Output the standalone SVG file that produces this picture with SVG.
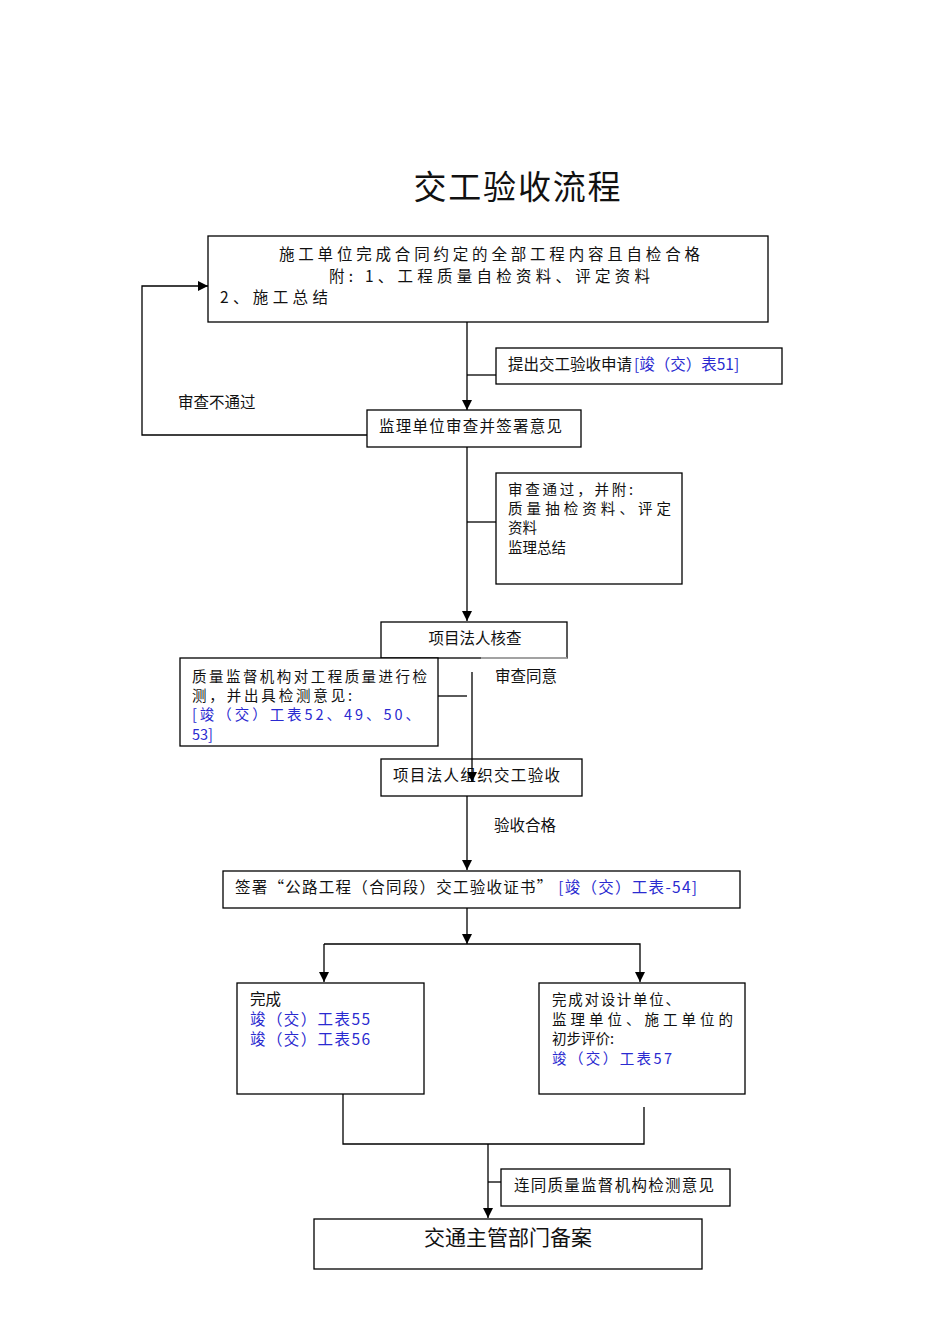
<svg xmlns="http://www.w3.org/2000/svg" width="950" height="1344" viewBox="0 0 950 1344">
<style>
.box{fill:#fff;stroke:#000;stroke-width:1.3}
.ln{fill:none;stroke:#000;stroke-width:1.3}
.t{font-family:"Noto Sans CJK SC","Liberation Sans",sans-serif;font-size:15.5px;fill:#111}
.s{font-size:14.5px}
.b{fill:#2a2ad0}
</style>
<defs>
<marker id="ah" viewBox="0 0 10 10" refX="10" refY="5" markerWidth="10" markerHeight="10" markerUnits="userSpaceOnUse" orient="auto"><path d="M0,0 L10,5 L0,10 Z" fill="#000"/></marker>
</defs>
<rect width="950" height="1344" fill="#fff"/>
<text x="517" y="199" text-anchor="middle" font-family="Noto Sans CJK SC, sans-serif" font-size="33" fill="#111" textLength="207" lengthAdjust="spacing">交工验收流程</text>

<g id="n1">
<rect class="box" x="208" y="236" width="560" height="86"/>
<text class="t" x="279" y="260" textLength="421" lengthAdjust="spacing">施工单位完成合同约定的全部工程内容且自检合格</text>
<text class="t" x="329" y="282" textLength="321" lengthAdjust="spacing">附: 1、工程质量自检资料、评定资料</text>
<text class="t" x="220" y="303" textLength="108" lengthAdjust="spacing">2、施工总结</text>
</g>

<g id="n2">
<rect class="box" x="496" y="348" width="286" height="36"/>
<text class="t" x="508" y="370">提出交工验收申请<tspan class="b" dx="2">[竣（交）表51]</tspan></text>
</g>

<g id="n3">
<rect class="box" x="367" y="410" width="214" height="37"/>
<text class="t" x="379" y="432" textLength="183" lengthAdjust="spacing">监理单位审查并签署意见</text>
</g>

<g id="n4">
<rect class="box" x="496" y="473" width="186" height="111"/>
<text class="t s" x="508" y="495" textLength="125" lengthAdjust="spacing">审查通过，并附:</text>
<text class="t s" x="508" y="514" textLength="163" lengthAdjust="spacing">质量抽检资料、评定</text>
<text class="t s" x="508" y="533">资料</text>
<text class="t s" x="508" y="553">监理总结</text>
</g>

<g id="n5">
<rect class="box" x="381" y="622" width="186" height="36"/>
<line x1="481" y1="658" x2="567" y2="658" stroke="#bbb" stroke-width="1.6"/>
<text class="t" x="475" y="644" text-anchor="middle">项目法人核查</text>
</g>

<g id="n6">
<rect class="box" x="180" y="658" width="258" height="88"/>
<text class="t s" x="192" y="682" textLength="235" lengthAdjust="spacing">质量监督机构对工程质量进行检</text>
<text class="t s" x="192" y="701" textLength="160" lengthAdjust="spacing">测，并出具检测意见:</text>
<text class="t s b" x="192" y="720" textLength="228" lengthAdjust="spacing">[竣（交）工表52、49、50、</text>
<text class="t s b" x="192" y="740">53]</text>
</g>

<g id="n7">
<rect class="box" x="381" y="759" width="201" height="37"/>
<text class="t" x="393" y="781" textLength="167" lengthAdjust="spacing">项目法人组织交工验收</text>
</g>

<g id="n8">
<rect class="box" x="223" y="871" width="517" height="37"/>
<text class="t" x="235" y="893" textLength="462" lengthAdjust="spacing">签署“公路工程（合同段）交工验收证书”<tspan class="b"> [竣（交）工表-54]</tspan></text>
</g>

<g id="n9">
<rect class="box" x="237" y="983" width="187" height="111"/>
<text class="t" x="250" y="1005">完成</text>
<text class="t b" x="250" y="1025" textLength="120" lengthAdjust="spacing">竣（交）工表55</text>
<text class="t b" x="250" y="1045" textLength="120" lengthAdjust="spacing">竣（交）工表56</text>
</g>

<g id="n10">
<rect class="box" x="539" y="983" width="206" height="111"/>
<text class="t s" x="552" y="1005" textLength="128" lengthAdjust="spacing">完成对设计单位、</text>
<text class="t s" x="552" y="1025" textLength="181" lengthAdjust="spacing">监理单位、施工单位的</text>
<text class="t s" x="552" y="1044">初步评价:</text>
<text class="t s b" x="552" y="1064" textLength="120" lengthAdjust="spacing">竣（交）工表57</text>
</g>

<g id="n11">
<rect class="box" x="501" y="1169" width="229" height="37"/>
<text class="t" x="514" y="1191" textLength="200" lengthAdjust="spacing">连同质量监督机构检测意见</text>
</g>

<g id="n12">
<rect class="box" x="314" y="1219" width="388" height="50"/>
<text x="508" y="1245" text-anchor="middle" font-family="Noto Sans CJK SC, sans-serif" font-size="21" fill="#111">交通主管部门备案</text>
</g>

<g id="connectors">
<path class="ln" d="M467,322 V410" marker-end="url(#ah)"/>
<path class="ln" d="M467,375 H496"/>
<path class="ln" d="M367,435 H142 V286 H208" marker-end="url(#ah)"/>
<path class="ln" d="M467,447 V621" marker-end="url(#ah)"/>
<path class="ln" d="M467,522 H496"/>
<path class="ln" d="M472,672 V782" marker-end="url(#ah)"/>
<path class="ln" d="M438,696 H467"/>
<path class="ln" d="M467,796 V870" marker-end="url(#ah)"/>
<path class="ln" d="M467,908 V944" marker-end="url(#ah)"/>
<path class="ln" d="M324,944 H640 V982" marker-end="url(#ah)"/>
<path class="ln" d="M324,944 V982" marker-end="url(#ah)"/>
<path class="ln" d="M343,1094 V1144 H644 V1107"/>
<path class="ln" d="M488,1144 V1218" marker-end="url(#ah)"/>
<path class="ln" d="M488,1182 H501"/>
<text class="t" x="178" y="408">审查不通过</text>
<text class="t" x="495" y="682">审查同意</text>
<text class="t" x="494" y="831">验收合格</text>
</g>
</svg>
